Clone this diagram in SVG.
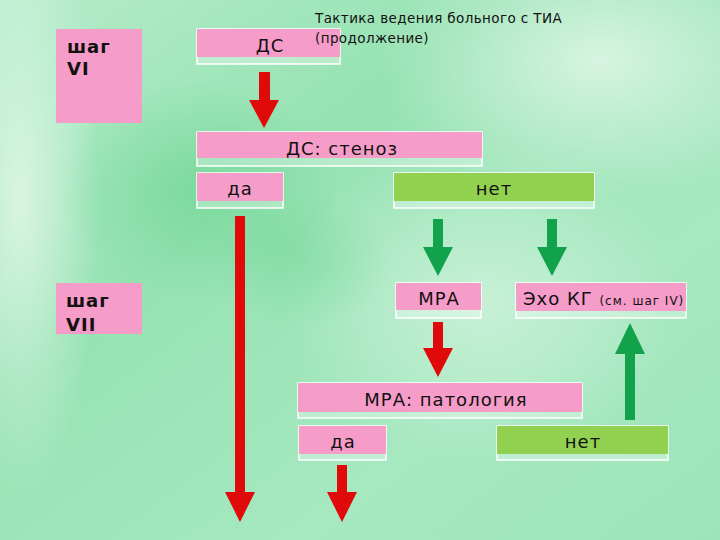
<svg xmlns="http://www.w3.org/2000/svg" width="720" height="540" viewBox="0 0 720 540">
<defs>
<linearGradient id="bg" x1="0" y1="0" x2="1" y2="1">
<stop offset="0" stop-color="#b5ecca"/>
<stop offset="0.35" stop-color="#96e2b2"/>
<stop offset="0.7" stop-color="#a6e8c0"/>
<stop offset="1" stop-color="#9ee4b9"/>
</linearGradient>
<radialGradient id="glow1" cx="0.5" cy="0.5" r="0.5">
<stop offset="0" stop-color="#e6f8ec" stop-opacity="0.8"/>
<stop offset="1" stop-color="#e6f8ec" stop-opacity="0"/>
</radialGradient>
<radialGradient id="dark1" cx="0.5" cy="0.5" r="0.5">
<stop offset="0" stop-color="#6fd693" stop-opacity="0.7"/>
<stop offset="1" stop-color="#6fd693" stop-opacity="0"/>
</radialGradient>
<style>
.pink{fill:#f69cc9}
.grn{fill:#92d050}
.frame{fill:#ffffff;fill-opacity:0.3;stroke:#ffffff;stroke-width:1.5}
.t{font-family:"DejaVu Sans",sans-serif;font-size:18px;letter-spacing:1px;fill:#111;text-anchor:middle}
.step{font-family:"DejaVu Sans",sans-serif;font-size:18px;letter-spacing:1px;font-weight:bold;fill:#111}
.title{font-family:"DejaVu Sans",sans-serif;font-size:13.5px;letter-spacing:0.4px;fill:#111}
.red{fill:#e10a0a}
.green{fill:#12a24c}
</style>
</defs>
<rect width="720" height="540" fill="url(#bg)"/>
<ellipse cx="600" cy="60" rx="220" ry="140" fill="url(#glow1)"/>
<ellipse cx="20" cy="200" rx="80" ry="300" fill="url(#glow1)"/>
<ellipse cx="480" cy="300" rx="200" ry="160" fill="url(#glow1)" opacity="0.7"/>
<ellipse cx="200" cy="190" rx="140" ry="110" fill="url(#dark1)"/>
<ellipse cx="300" cy="260" rx="90" ry="70" fill="url(#dark1)" opacity="0.6"/>

<g id="step6">
<rect class="pink" x="56" y="29" width="86" height="94"/>
<text class="step" x="67" y="53">шаг</text>
<text class="step" x="67" y="75">VI</text>
</g>
<g id="step7">
<rect class="pink" x="56" y="283" width="86" height="51"/>
<text class="step" x="66" y="307">шаг</text>
<text class="step" x="66" y="331">VII</text>
</g>

<g id="ds">
<rect class="frame" x="197" y="29" width="143" height="35"/>
<rect class="pink" x="197" y="29" width="143" height="28"/>
<text class="t" x="270" y="52">ДС</text>
</g>
<g id="ds-stenoz">
<rect class="frame" x="197" y="132" width="285" height="34"/>
<rect class="pink" x="197" y="132" width="285" height="26"/>
<text class="t" x="342" y="155">ДС: стеноз</text>
</g>
<g id="da1">
<rect class="frame" x="197" y="173" width="86" height="35"/>
<rect class="pink" x="197" y="173" width="86" height="28"/>
<text class="t" x="240" y="195">да</text>
</g>
<g id="net1">
<rect class="frame" x="394" y="173" width="200" height="35"/>
<rect class="grn" x="394" y="173" width="200" height="28"/>
<text class="t" x="494" y="195">нет</text>
</g>
<g id="mra">
<rect class="frame" x="396" y="283" width="85" height="35"/>
<rect class="pink" x="396" y="283" width="85" height="27"/>
<text class="t" x="439" y="305">МРА</text>
</g>
<g id="echo">
<rect class="frame" x="516" y="283" width="170" height="35"/>
<rect class="pink" x="516" y="283" width="170" height="28"/>
<text class="t" x="523" y="305" style="text-anchor:start">Эхо КГ <tspan font-size="12px">(см. шаг IV)</tspan></text>
</g>
<g id="mra-pat">
<rect class="frame" x="298" y="383" width="284" height="35"/>
<rect class="pink" x="298" y="383" width="284" height="29"/>
<text class="t" x="446" y="406">МРА: патология</text>
</g>
<g id="da2">
<rect class="frame" x="299" y="426" width="87" height="34"/>
<rect class="pink" x="299" y="426" width="87" height="28"/>
<text class="t" x="343" y="448">да</text>
</g>
<g id="net2">
<rect class="frame" x="497" y="426" width="171" height="34"/>
<rect class="grn" x="497" y="426" width="171" height="28"/>
<text class="t" x="583" y="448">нет</text>
</g>

<text class="title" x="315" y="23">Тактика ведения больного с ТИА</text>
<text class="title" x="315" y="43">(продолжение)</text>

<g id="connectors">
<polygon class="red" points="259,72 270,72 270,100 279,100 264,128 249,100 259,100"/>
<polygon class="red" points="235,216 245,216 245,492 255,492 240,522 225,492 235,492"/>
<polygon class="green" points="433,219 443,219 443,247 453,247 438,276 423,247 433,247"/>
<polygon class="green" points="547,219 557,219 557,247 567,247 552,276 537,247 547,247"/>
<polygon class="red" points="433,322 443,322 443,348 453,348 438,377 423,348 433,348"/>
<polygon class="red" points="337,465 347,465 347,492 357,492 342,522 327,492 337,492"/>
<polygon class="green" points="625,420 635,420 635,354 645,354 630,323 615,354 625,354"/>
</g>
</svg>
